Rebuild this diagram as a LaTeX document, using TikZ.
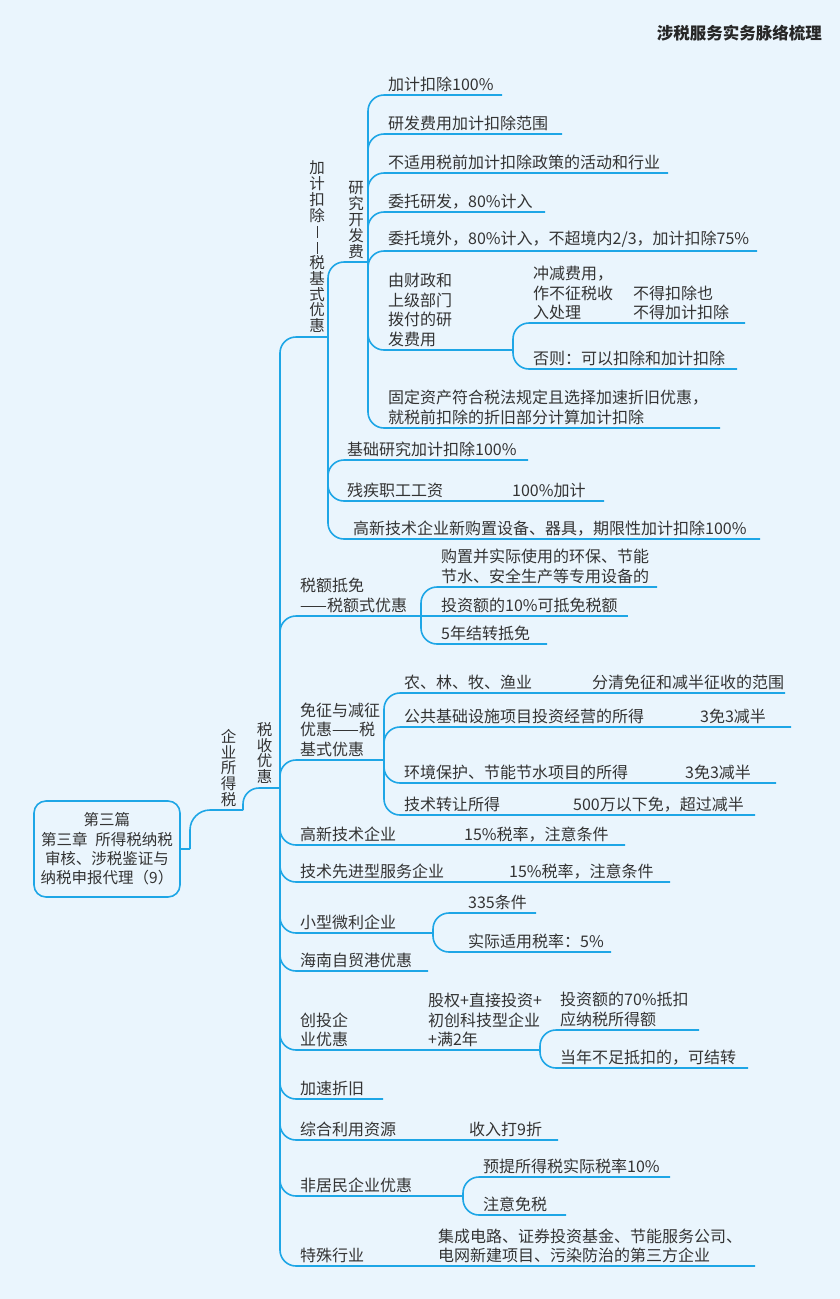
\documentclass[tikz,border=0pt]{standalone}
\usepackage{fontspec}
\setmainfont{Noto Sans CJK SC}
\definecolor{bgblue}{HTML}{EAF5FD}
\definecolor{lineblue}{HTML}{1EA6E6}
\definecolor{textgray}{HTML}{333333}
\newcommand{\fs}{\fontsize{16pt}{19.5pt}\selectfont}
\newcommand{\vfs}{\fontsize{15.5pt}{15.8pt}\selectfont}
% join, underline y, text x, end x, name, text
\newcommand{\twig}[6]{%
  \coordinate (#5-e) at (#4,#2);
  \draw[link] (#1) |- (#5-e);
  \node[lbl] (#5) at (#3,#2-3) {#6};
}
\tikzset{
  link/.style={lineblue, line width=1.6pt, rounded corners=16pt},
  lbl/.style={inner sep=0pt, anchor=south west, align=left, text=textgray, font=\fs},
  vlbl/.style={inner sep=0pt, anchor=south, align=center, text=textgray, font=\vfs},
  rootbox/.style={draw=lineblue, line width=1.6pt, rounded corners=12pt, fill=bgblue,
    minimum width=146pt, minimum height=96pt, inner sep=0pt, align=center,
    text=textgray, font=\fontsize{15.5pt}{19.3pt}\selectfont},
}
\begin{document}
\begin{tikzpicture}[x=1pt, y=-1pt]
\fill[bgblue] (0,0) rectangle (840,1299);
\useasboundingbox (0,0) rectangle (840,1299);
\node[anchor=east, inner sep=0pt, font=\bfseries\fontsize{16.5pt}{16.5pt}\selectfont, text=black!85] (title) at (822,33) {涉税服务实务脉络梳理};

% root
\node[rootbox] (root) at (107,849) {第三篇\\第三章\hspace{8pt}所得税纳税\\审核、涉税鉴证与\\纳税申报代理（9）};
\coordinate (root-e) at (190,849);
\draw[link] (root.east) -- (root-e);

% 企业所得税, 税收优惠
\coordinate (qysds-e) at (243,810);
\draw[link, rounded corners=20pt] (root-e) |- (qysds-e);
\node[vlbl] (qysds) at (228.5,807) {企\\业\\所\\得\\税};
\coordinate (ssyh-e) at (280,788);
\draw[link] (qysds-e) |- (ssyh-e);
\node[vlbl] (ssyh) at (264.5,784) {税\\收\\优\\惠};

% 加计扣除
\coordinate (jjkc-e) at (328,337);
\draw[link] (ssyh-e) |- (jjkc-e);
\node[vlbl] (jjkc) at (317,333) {加\\计\\扣\\除\\\rule[-1pt]{0.8pt}{12pt}\\\rule[-1pt]{0.8pt}{12pt}\\税\\基\\式\\优\\惠};
\coordinate (jjkc-j) at (328,480);

% 研究开发费
\coordinate (yfkf-e) at (368,262);
\draw[link] (jjkc-j) |- (yfkf-e);
\node[vlbl] (yfkf) at (356,258.5) {研\\究\\开\\发\\费};
\twig{yfkf-e}{95}{388}{502}{jj100}{加计扣除100\%}
\twig{yfkf-e}{134}{388}{562}{yffw}{研发费用加计扣除范围}
\twig{yfkf-e}{173}{388}{668}{bsy}{不适用税前加计扣除政策的活动和行业}
\twig{yfkf-e}{212}{388}{545}{wtyf}{委托研发，80\%计入}
\twig{yfkf-e}{251}{388}{757}{wtjw}{委托境外，80\%计入，不超境内2/3，加计扣除75\%}
\twig{yfkf-e}{350}{388}{513}{czbf}{由财政和\\上级部门\\拨付的研\\发费用}
\twig{yfkf-e}{428}{388}{720}{gdzc}{固定资产符合税法规定且选择加速折旧优惠，\\就税前扣除的折旧部分计算加计扣除}

% 由财政拨付
\twig{czbf-e}{323}{533}{745}{cjfy}{冲减费用，\\作不征税收\\入处理}
\node[lbl] (bdkc) at (633,320) {不得扣除也\\不得加计扣除};
\twig{czbf-e}{369}{533}{737}{fz}{否则：可以扣除和加计扣除}

\twig{jjkc-j}{460}{347}{528}{jcyj}{基础研究加计扣除100\%}
\twig{jjkc-j}{501}{347}{604}{cjzg}{残疾职工工资}
\node[lbl] (cjzg-r) at (512,498) {100\%加计};
\twig{jjkc-j}{539}{353}{760}{gxsb}{高新技术企业新购置设备、器具，期限性加计扣除100\%}

% 税额抵免
\twig{ssyh-e}{616}{300}{421}{sedm}{税额抵免\\——税额式优惠}
\twig{sedm-e}{587}{441}{657}{gzsb}{购置并实际使用的环保、节能\\节水、安全生产等专用设备的}
\coordinate (tze-e) at (628,616);
\draw[link] (sedm-e) -- (tze-e);
\node[lbl] (tze) at (441,613) {投资额的10\%可抵免税额};
\twig{sedm-e}{644}{441}{547}{jzdm}{5年结转抵免}

% 免征与减征
\twig{ssyh-e}{760}{300}{384}{mzjz}{免征与减征\\优惠——税\\基式优惠}
\twig{mzjz-e}{693}{404}{785}{nlmy}{农、林、牧、渔业}
\node[lbl] (nlmy-r) at (592,690) {分清免征和减半征收的范围};
\twig{mzjz-e}{727}{404}{791}{ggjc}{公共基础设施项目投资经营的所得}
\node[lbl] (ggjc-r) at (700,724) {3免3减半};
\twig{mzjz-e}{783}{404}{776}{hjbh}{环境保护、节能节水项目的所得}
\node[lbl] (hjbh-r) at (685,780) {3免3减半};
\twig{mzjz-e}{815}{404}{755}{jszr}{技术转让所得}
\node[lbl] (jszr-r) at (573,812) {500万以下免，超过减半};

% 其余优惠
\twig{ssyh-e}{845}{300}{625}{gxjs}{高新技术企业}
\node[lbl] (gxjs-r) at (464,842) {15\%税率，注意条件};
\twig{ssyh-e}{882}{300}{670}{jsxj}{技术先进型服务企业}
\node[lbl] (jsxj-r) at (509,879) {15\%税率，注意条件};
\twig{ssyh-e}{933}{300}{433}{xxwl}{小型微利企业}
\twig{xxwl-e}{913}{468}{536}{tj335}{335条件}
\twig{xxwl-e}{952}{468}{611}{sjsl}{实际适用税率：5\%}
\twig{ssyh-e}{971}{300}{428}{hnzm}{海南自贸港优惠}
\twig{ssyh-e}{1050}{300}{540}{ctqy}{创投企\\业优惠}
\node[lbl] (ctqy-r) at (428,1047) {股权+直接投资+\\初创科技型企业\\+满2年};
\twig{ctqy-e}{1030}{560}{699}{tze70}{投资额的70\%抵扣\\应纳税所得额}
\twig{ctqy-e}{1068}{560}{748}{dnbz}{当年不足抵扣的，可结转}
\twig{ssyh-e}{1099}{300}{383}{jszj}{加速折旧}
\twig{ssyh-e}{1140}{300}{558}{zhly}{综合利用资源}
\node[lbl] (zhly-r) at (469,1137) {收入打9折};
\twig{ssyh-e}{1196}{300}{463}{fjm}{非居民企业优惠}
\twig{fjm-e}{1177}{483}{670}{ytsl}{预提所得税实际税率10\%}
\twig{fjm-e}{1215}{483}{566}{zyms}{注意免税}
\twig{ssyh-e}{1266}{300}{755}{tshy}{特殊行业}
\node[lbl] (tshy-r) at (438,1263) {集成电路、证券投资基金、节能服务公司、\\电网新建项目、污染防治的第三方企业};
\end{tikzpicture}
\end{document}
